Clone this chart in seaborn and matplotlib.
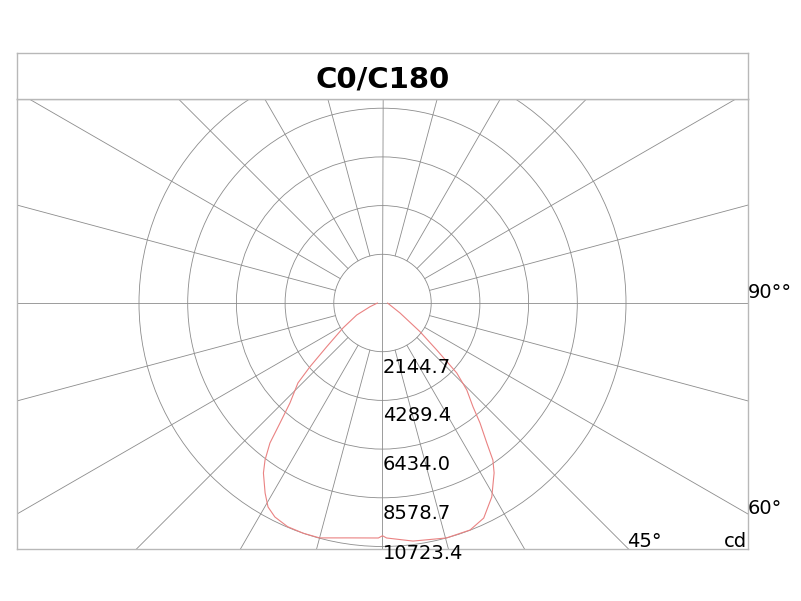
import numpy as np
import pandas as pd
import matplotlib
matplotlib.use("Agg")
import matplotlib.pyplot as plt
from matplotlib.patches import Circle
import seaborn as sns

# ---------------- data ----------------
title = "C0/C180"
ring_values = [2144.7, 4289.4, 6434.0, 8578.7, 10723.4]
ring_labels = ["2144.7", "4289.4", "6434.0", "8578.7", "10723.4"]
grid_angles = list(range(0, 360, 15))

# C180 half-plane (drawn on the left), gamma measured from nadir
gamma_c180 = [0, 1, 8, 15, 19, 23, 26.7, 29.3, 31.7, 35, 36.8, 38.8, 40.5,
              42.8, 46.6, 48.7, 51.9, 57.7, 65, 73.5, 90]
cd_c180 = [10250, 10350, 10446, 10710, 10723, 10700, 10548, 10301, 9838, 9143,
           8636, 7910, 6950, 5998, 5126, 4250, 3122, 2057, 1255, 573, 220]

# C0 half-plane (drawn on the right)
gamma_c0 = [0, 1, 7.3, 15.2, 21.1, 25.2, 29.4, 33.3, 35.1, 36.7, 39.1, 41.1,
            44.1, 46.7, 49.1, 52.6, 60.3, 90]
cd_c0 = [10250, 10350, 10570, 10723, 10715, 10468, 9803, 8953, 8456, 7685,
         6809, 6060, 5333, 4492, 3158, 2079, 890, 220]

angle_labels = ["90°°", "60°", "45°"]
unit_label = "cd"

# ---------------- style ----------------
sns.set_style("white")
plt.rcParams["font.family"] = ["DejaVu Sans"]
plt.rcParams["text.color"] = "black"

W, H = 801, 601
fig = plt.figure(figsize=(W / 100, H / 100), dpi=100)
fig.patch.set_facecolor("white")

ax = fig.add_axes([17 / W, 1 - 549 / H, 731 / W, 450 / H])
tax = fig.add_axes([17 / W, 1 - 99 / H, 731 / W, 46 / H])

s = ring_values[0] / 48.7  # cd per pixel
xmax = 365.5 * s
ax.set_xlim(-xmax, xmax)
ax.set_ylim(-246 * s, 204 * s)

grid_col = "#8c8c8c"
grid_lw = 0.6

# rings
for rv in ring_values:
    ax.add_patch(Circle((0, 0), rv, fill=False, ec=grid_col, lw=grid_lw, zorder=1))

# radial lines
far = 40000
for a in grid_angles:
    t = np.deg2rad(a)
    r0 = 0 if a % 90 == 0 else ring_values[0]
    ax.plot([r0 * np.sin(t), far * np.sin(t)], [-r0 * np.cos(t), -far * np.cos(t)],
            color=grid_col, lw=grid_lw, zorder=1)

# curve
g180 = np.deg2rad(np.array(gamma_c180))
g0 = np.deg2rad(np.array(gamma_c0))
c180 = np.array(cd_c180)
c0 = np.array(cd_c0)
xs = np.concatenate([(-c180 * np.sin(g180))[::-1], c0 * np.sin(g0)])
ys = np.concatenate([(-c180 * np.cos(g180))[::-1], -c0 * np.cos(g0)])
df = pd.DataFrame({"x": xs, "y": ys, "order": np.arange(len(xs))})
sns.lineplot(data=df, x="x", y="y", sort=False, estimator=None, ax=ax,
             color="#ea8282", lw=0.8, zorder=3)

# ring labels
for i, (rv, lab) in enumerate(zip(ring_values, ring_labels)):
    if i < len(ring_values) - 1:
        yb = -(rv + 21 * s)
    else:
        yb = -256 * s
    ax.text(0.5 * s, yb, lab, ha="left", va="baseline", fontsize=14,
            color="black", clip_on=False, zorder=4)

# angle labels
fs_a = 14
ax.text(xmax, 5 * s, angle_labels[0], ha="left", va="baseline", fontsize=fs_a, color="black", clip_on=False)
ax.text(xmax, -211 * s, angle_labels[1], ha="left", va="baseline", fontsize=fs_a, color="black", clip_on=False)
ax.text(244.5 * s, -244 * s, angle_labels[2], ha="left", va="baseline", fontsize=fs_a, color="black", clip_on=False)
ax.text(xmax - 1 * s, -244 * s, unit_label, ha="right", va="baseline", fontsize=fs_a, color="black", clip_on=False)

for a in (ax, tax):
    a.set_xticks([])
    a.set_yticks([])
    a.set_xlabel("")
    a.set_ylabel("")
    for sp in a.spines.values():
        sp.set_color("#b8b8b8")
        sp.set_linewidth(1.0)
        sp.set_visible(True)
if ax.legend_:
    ax.legend_.remove()

tax.text(0.5, 0.42, title, ha="center", va="center", fontsize=21,
         fontweight="bold", color="black", transform=tax.transAxes)

fig.savefig("out.png", dpi=100, facecolor="white")
